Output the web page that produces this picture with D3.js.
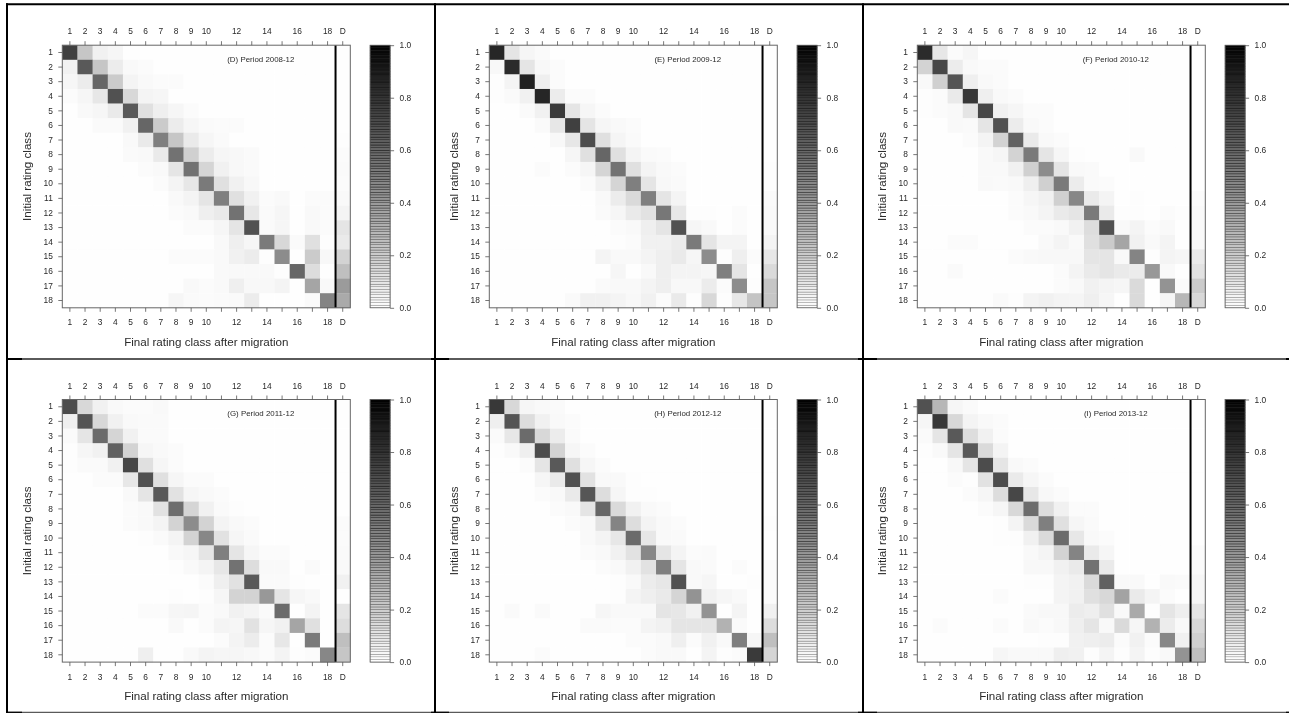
<!DOCTYPE html>
<html>
<head>
<meta charset="utf-8">
<script src="https://cdn.jsdelivr.net/npm/d3@7"></script>
<style>
  html, body { margin: 0; padding: 0; background: #fff; overflow: hidden; }
  text { font-family: "Liberation Sans", Arial, sans-serif; fill: #2a2a2a; }
</style>
</head>
<body>
<div id="chart"></div>
<script>
var rowClasses = ["1","2","3","4","5","6","7","8","9","10","11","12","13","14","15","16","17","18"];
var colClasses = rowClasses.concat(["D"]);
var labelledCols = ["1","2","3","4","5","6","7","8","9","10","12","14","16","18","D"];
var legendTicks = [0, 0.2, 0.4, 0.6, 0.8, 1];
var periodTitles = ["(D) Period 2008-12","(E) Period 2009-12","(F) Period 2010-12","(G) Period 2011-12","(H) Period 2012-12","(I) Period 2013-12"];

var period2008 = [
  [75,22,5,3,0,0,0,0,0,0,0,0,0,0,0,0,0,0,0],
  [5,65,22,7,2,1,0,0,0,0,0,0,0,0,0,0,0,0,0],
  [3,7,60,20,4,2,1,1,0,0,0,0,0,0,0,0,0,0,0],
  [1,3,9,68,15,4,3,0,0,0,0,0,0,0,0,0,0,0,0],
  [0,2,3,8,65,12,6,3,1,0,0,0,0,0,0,0,0,0,0],
  [0,0,1.5,1.5,5,60,20,7,3,1.5,1,1,0,0,0,0,0,0,0],
  [0,0,0,0,2,8,50,22,8,3,1.5,0,0,0,0,0,0,0,0.5],
  [0,0,0,0,1.5,2,8,55,18,7,3,2.5,1.5,0,0,0,0,0,1],
  [0,0,0,0,0,1,2,10,55,16,5,2.5,1.5,0,0,0,0,0,1.5],
  [0,0,0,0,0,0,1,4,9,52,12,5,2.5,0,0,0,0,0,1],
  [0,0,0,0,0,0,0,2,4,10,50,12,5,1,2,0,1,1,2],
  [0,0,0,0,0,0,0,1,2,6,8,55,9,1.5,3,0,2,1,4],
  [0,0,0,0,0,0,0,0,1,1,3,10,68,1.5,3,0,2,1,10],
  [0,0,0,0,0,0,0,0,0,0,2,6,3,52,15,1.5,12,0.5,8],
  [0,0,0,0,0,0,0,1,1,1,2,5,7,0.5,45,0,20,2.5,17],
  [0,0,0,0,0,0,0,0,0,0,2,2,2,2,0.5,60,13,0,25],
  [0,0,0,0,0,0,0,0,2,1,2,6,2.5,2.5,4,0,35,2,39],
  [0,0,0,0,0,0,0,3,1.5,1,1.5,1.5,7,0,0,0,1.5,48,33]
];
var period2009 = [
  [85,10,3,1.5,0,0,0,0,0,0,0,0,0,0,0,0,0,0,0],
  [2.5,83,10,2.5,1,0,0,0,0,0,0,0,0,0,0,0,0,0,0],
  [0.5,4,87,6,1,0,0,0,0,0,0,0,0,0,0,0,0,0,0],
  [0.5,1.5,5,85,7,1,1,0,0,0,0,0,0,0,0,0,0,0,0],
  [0,0,1.5,5,77,10,3,1,0,0,0,0,0,0,0,0,0,0,0],
  [0,0,0,1.5,9,75,10,3,2,1,0,0,0,0,0,0,0,0,0],
  [0,0,0,0,2.5,9,70,12,3.5,1.5,0,0,0,0,0,0,0,0,0],
  [0,0,0,0,0,3,12,60,12,4,1.5,1,0,0,0,0,0,0,0],
  [0,0,0,1,0,1,3,16,55,12,4,2,1,0,0,0,0,0,0.5],
  [0,0,0,0,0,0,1,5,16,50,10,2.5,1.5,0,0,0,0,0,0.5],
  [0,0,0,0,0,0,0,2,7,14,50,10,4,0,0,0,0,0,1.5],
  [0,0,0,0,0,0,0,1.5,3,8,11,53,9,0.5,0.5,0,1,0,2],
  [0,0,0,0,0,0,0,0,1,2,6,10,68,3,2,0,1,0,2],
  [0,0,0,0,0,0,0,0,0.5,1,5,5,7,52,10,4,4,0,4],
  [0,0,0,0,0,0,0,4,2,2,4,6,8,3,45,0.5,6,1,9],
  [0,0,0,0,0,0,0,0,3,0,2,6,4,4,3,50,10,0,14],
  [0,0,0,0,0,0,0,1.5,2,2,4,6,2.5,2.5,7,1,45,0.5,22],
  [0,0,0,0,0,1.5,5,5,4,2.5,5,1,8,0.5,15,0.5,9,23,22]
];
var period2010 = [
  [83,9,1,3,0,0,0,0,0,0,0,0,0,0,0,0,0,0,0],
  [17,72,7,2,1,1,0,0,0,0,0,0,0,0,0,0,0,0,0],
  [2,18,67,6,2,1,0,0,0,0,0,0,0,0,0,0,0,0,0],
  [0.5,1,8,78,6,2,1,0,0,0,0,0,0,0,0,0,0,0,0],
  [0.5,1,2,10,72,5,3,1,1,0,0,0,0,0,0,0,0,0,0],
  [0,0,2,1.5,10,68,7,2,1,0,0,0,0,0,0,0,0,0,0],
  [0,0,0,1,4,17,62,8,2,1,0,0,0,0,0,0,0,0,0],
  [0,0,0,0,2,3,17,52,10,3,0.5,0,0,0,2,0,0,0,0],
  [0,0,0,0,2,2,5,18,45,10,2,1.5,0,0,0,0,0,0,0],
  [0,0,0,0,2,1.5,2,6,18,52,7,1.5,1,0,0,0,0,0,0],
  [0,0,0,0,0,0,1,3,5,18,47,8,4,0,0.5,0,0,0,1],
  [0,0,0,0,0,0,1,2,4,8,10,52,8,0.5,0.5,0,1,0.5,2],
  [0,0,0,0,0,0,0,1,1,2,5,13,68,2,4,1,2,0,2],
  [0,0,1,1,0,0,0,0,2,4,2,12,20,35,5,2,4,0,2],
  [0,0,0,0,0,0,1,2,2.5,2.5,2.5,10,10,2,48,0.5,4,3,8],
  [0,0,1.5,0,0,0,0,0,0,1,4,8,10,8,7,40,2,0,11],
  [0,0,0,0,0,0,0,0,0,1,2,5,4,3,14,0,42,1,20],
  [0,0,0,0,0,1.5,0.5,4,5,4,3.5,6,3,0,14,0,3,28,15]
];
var period2011 = [
  [70,15,5,2,1,1,2,0,0,0,0,0,0,0,0,0,0,0,0],
  [6,67,15,5,2,1.5,1.5,0,0,0,0,0,0,0,0,0,0,0,0],
  [1.5,10,58,16,5,1.5,1.5,0,0,0,0,0,0,0,0,0,0,0,0],
  [0.5,3,5,62,17,3,2,1,0,0,0,0,0,0,0,0,0,0,0],
  [0.5,1.5,1.5,5,72,12,3,1,0,0,0,0,0,0,0,0,0,0,0],
  [0,0,1,1,9,68,12,3,1,1,0,0,0,0,0,0,0,0,0],
  [0,0,0,0,2,10,65,11,3,2,1,0,0,0,0,0,0,0,0],
  [0,0,0,0,1,2,11,57,16,5,1.5,0.5,0,0,0,0,0,0,0],
  [0,0,0,0,1,2,4,17,45,17,4,2,1,0,0,0,0,0,1],
  [0,0,0,0,0,0.5,1.5,4,17,47,11,3,1.5,0,0,0,0,0,1],
  [0,0,0,0,0,0,0,2,3,10,50,10,3,1,1,0,0,0,1.5],
  [0,0,0,0,0,0,0,0.5,2,4,9,55,13,2,2,0,1.5,0,2],
  [0,0,0,0,0,0,0,0,0,1,6,11,65,1.5,1.5,0.5,0,0,5],
  [0,0,0,0,0,0,0,0.5,0,0.5,3,17,17,40,10,3,2,0,0],
  [0,0,0,0,0,1,1,3,3.5,1,2,5,4,1.5,58,0,4,0,10],
  [0,0,0,0,0,0,0,2,0,1,4,3,11,3,5,35,12,0,13],
  [0,0,0,0,0,0,0,0,0,0,1,4,7,1,9,0,52,0,25],
  [0,0,0,0,0,6,0,0,2,4,3,3,2.5,1,4,0.5,1,47,22]
];
var period2012 = [
  [78,15,3,2,1.5,0,0,0,0,0,0,0,0,0,0,0,0,0,0],
  [6,67,13,5,2,1,0,0,0,0,0,0,0,0,0,0,0,0,0],
  [1.5,9,58,15,7,1.5,0,0,0,0,0,0,0,0,0,0,0,0,0],
  [0.5,2,6,70,17,3,1,0,0,0,0,0,0,0,0,0,0,0,0],
  [0,0,1,10,65,12,3,1,0,0,0,0,0,0,0,0,0,0,0],
  [0,0,0,3,8,68,11,2,2,0.5,0,0,0,0,0,0,0,0,0],
  [0,0,0,1,2,8,66,13,3,0.5,0.5,0,0,0,0,0,0,0,0],
  [0,0,0,0,1,2,10,60,14,5,2,1,0,0,0,0,0,0,0],
  [0,0,0,0,0,1,2,11,48,13,4,2,1,0,0,0,0,0,0.5],
  [0,0,0,0,0,0,2,4,9,58,9,2,1.5,0,0,0,0,0,0],
  [0,0,0,0,0,0,1,2,5,11,47,10,4,1,1.5,0,0,0,0],
  [0,0,0,0,0,0,0,1,2,5,11,50,10,2,1.5,0,1,0,1.5],
  [0,0,0,0,0,0,0,0,0.5,2,7,9,68,2,3,0,0,0.5,1.5],
  [0,0,0,0,0,0,0,0,0.5,4,6,8,16,42,5,3,2,0,1],
  [0,1.5,0,1.5,0,0,0,3,2,2,2,10,9,5,42,0,4,0,5],
  [0,0,0,0,0,0,1.5,1.5,1,1,4,5,10,10,10,30,1.5,0,13],
  [0,0,0,0,0,0,0,0,0,1,1,2,6,1,5,2,50,3,25],
  [0,0,0,1,0,0,0,0,0,0,1,2,2,0,4,0.5,1,77,16]
];
var period2013 = [
  [68,28,3,1.5,0,0,0,0,0,0,0,0,0,0,0,0,0,0,0],
  [3,78,15,4,2,1,0,0,0,0,0,0,0,0,0,0,0,0,0],
  [1.5,10,65,13,5,1,0,0,0,0,0,0,0,0,0,0,0,0,0],
  [0.5,2,10,65,14,4,0,0,0,0,0,0,0,0,0,0,0,0,0],
  [0,0,2.5,10,70,10,2,1,0,0,0,0,0,0,0,0,0,0,0],
  [0,0,1,0.5,11,70,8,3,1,0,0,0,0,0,0,0,0,0,0],
  [0,0,0,1,3,13,72,9,2.5,1,0,0,0,0,0,0,0,0,0],
  [0,0,0,0,1,3,15,57,13,5,1,1,0,0,0,0,0,0,0],
  [0,0,0,0,0,0.5,4,14,50,12,3,1.5,0,0,0,0,0,0,0],
  [0,0,0,0,0,0.5,0.5,5,14,58,9,2,1,0,0,0,0,0,0],
  [0,0,0,0,0,0,0,2,4,17,48,8,3,0,0,0,0,0,1],
  [0,0,0,0,0,0,0,2.5,2.5,5,8,55,8,0,0,0,0,0,1.5],
  [0,0,0,0,0,0,0,0.5,0.5,4,5,14,62,2,2,0,2,1.5,3],
  [0,0,0,0,0,1,0,0,0,4,5,12,15,36,8,4,1,0,3],
  [0,0,0,0,0,0,0,1.5,2.5,2.5,7,6,12,2,33,0.5,10,6,10],
  [0,1,0,0,0,1,0,2,1,2.5,6,10,2,14,3,30,7,2,15],
  [0,0,0,0,0,0,0,0,0.5,0.5,5,6,7,1,5,1,47,5,18],
  [0,0,0,0,0,3,2,2,2,6,5,0.5,4,0.5,4,0.5,2,42,25]
];
var periods = [period2008, period2009, period2010, period2011, period2012, period2013];

var fullWidth = 1289, fullHeight = 713;
var plotWidth = 288, plotHeight = 262.6;
var panelLeft = [62.3, 489.3, 917.3];
var panelTop = [45.2, 399.5];
var legendGap = 307.8, legendWidth = 20;

var svg = d3.select("#chart").append("svg")
  .attr("width", fullWidth)
  .attr("height", fullHeight)
  .style("display", "block");

var x = d3.scaleBand().domain(colClasses).range([0, plotWidth]);
var y = d3.scaleBand().domain(rowClasses).range([0, plotHeight]);
var shade = d3.scaleLinear().domain([0, 100]).range(["#fefefe", "#000000"]).clamp(true);
var legendY = d3.scaleLinear().domain([0, 1]).range([plotHeight, 0]);
var legendLevels = d3.range(0, 100);

function showLabel(d) { return labelledCols.indexOf(d) >= 0 ? d : ""; }

function styleAxis(g) {
  g.select(".domain").remove();
  g.selectAll("line").attr("stroke", "#555").attr("stroke-width", 0.8);
  g.selectAll("text").style("font-size", "8.4px").style("font-family", '"Liberation Sans", Arial, sans-serif').attr("fill", "#2a2a2a");
}

function drawPanel(idx) {
  var left = panelLeft[idx % 3], top = panelTop[Math.floor(idx / 3)];
  var g = svg.append("g")
    .attr("transform", "translate(" + left + "," + top + ")")
    .style("filter", "blur(0.35px)");

  var cells = [];
  periods[idx].forEach(function(row, r) {
    row.forEach(function(v, c) {
      cells.push({ row: rowClasses[r], col: colClasses[c], value: v });
    });
  });

  g.selectAll("rect.cell")
    .data(cells)
    .enter().append("rect")
      .attr("class", "cell")
      .attr("x", function(d) { return x(d.col); })
      .attr("y", function(d) { return y(d.row); })
      .attr("width", x.bandwidth() + 0.3)
      .attr("height", y.bandwidth() + 0.3)
      .attr("fill", function(d) { return shade(d.value); });

  // heavy line before the default column
  g.append("line")
    .attr("x1", x("D") + 0.4).attr("x2", x("D") + 0.4)
    .attr("y1", 0).attr("y2", plotHeight)
    .attr("stroke", "#000").attr("stroke-width", 2);

  g.append("rect")
    .attr("width", plotWidth).attr("height", plotHeight)
    .attr("fill", "none").attr("stroke", "#666").attr("stroke-width", 1);

  g.append("g")
    .call(d3.axisTop(x).tickSizeOuter(0).tickSize(4).tickPadding(7).tickFormat(showLabel))
    .call(styleAxis);
  g.append("g")
    .attr("transform", "translate(0," + plotHeight + ")")
    .call(d3.axisBottom(x).tickSizeOuter(0).tickSize(4).tickPadding(7.5).tickFormat(showLabel))
    .call(styleAxis);
  g.append("g")
    .call(d3.axisLeft(y).tickSizeOuter(0).tickSize(4).tickPadding(5.5))
    .call(styleAxis);

  g.append("text")
    .attr("x", plotWidth / 2).attr("y", plotHeight + 38.2)
    .attr("text-anchor", "middle")
    .style("font-size", "11.6px")
    .text("Final rating class after migration");
  g.append("text")
    .attr("transform", "translate(-31," + plotHeight / 2 + ") rotate(-90)")
    .attr("text-anchor", "middle")
    .style("font-size", "11.6px")
    .text("Initial rating class");
  g.append("text")
    .attr("x", 198.5).attr("y", 16.5)
    .attr("text-anchor", "middle")
    .style("font-size", "7.9px")
    .text(periodTitles[idx]);

  // grey scale key, striped like the original
  var key = g.append("g").attr("transform", "translate(" + legendGap + ",0)");
  var step = plotHeight / legendLevels.length;
  key.selectAll("rect")
    .data(legendLevels)
    .enter().append("rect")
      .attr("x", 0)
      .attr("y", function(d) { return legendY((d + 1) / 100); })
      .attr("width", legendWidth)
      .attr("height", step)
      .attr("fill", function(d) { return shade(d); })
      .attr("stroke", function(d) { return shade(d + 50); })
      .attr("stroke-width", 0.4);
  key.append("rect")
    .attr("width", legendWidth).attr("height", plotHeight)
    .attr("fill", "none").attr("stroke", "#666").attr("stroke-width", 0.8);
  key.append("g")
    .attr("transform", "translate(" + legendWidth + ",0)")
    .call(d3.axisRight(legendY).tickValues(legendTicks).tickSizeOuter(0).tickSize(4).tickPadding(5.5).tickFormat(d3.format(".1f")))
    .call(styleAxis);
}

d3.range(periods.length).forEach(drawPanel);

// frame around the six panels
var frame = svg.append("g");
var frameV = [7, 435, 863];
var frameBlack = [[7, 22], [431, 449], [858, 877], [1286, 1289]];
var frameH = [359, 712.3];

frameH.forEach(function(yy) {
  frame.append("line").attr("x1", 7).attr("x2", fullWidth).attr("y1", yy).attr("y2", yy)
    .attr("stroke", "#5a5a5a").attr("stroke-width", yy > 700 ? 1.2 : 2);
  frameBlack.forEach(function(b) {
    frame.append("line").attr("x1", b[0]).attr("x2", b[1]).attr("y1", yy).attr("y2", yy)
      .attr("stroke", "#000").attr("stroke-width", yy > 700 ? 1.2 : 2);
  });
});
frame.append("line").attr("x1", 6).attr("x2", fullWidth).attr("y1", 4.3).attr("y2", 4.3)
  .attr("stroke", "#000").attr("stroke-width", 2);
frameV.forEach(function(xx) {
  frame.append("line").attr("x1", xx).attr("x2", xx).attr("y1", 3.3).attr("y2", fullHeight)
    .attr("stroke", "#000").attr("stroke-width", 2);
});
</script>
</body>
</html>
